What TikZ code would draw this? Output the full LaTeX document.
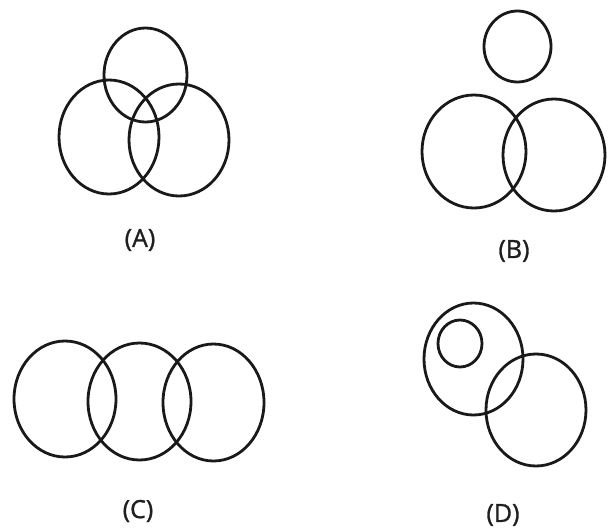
\documentclass[tikz,border=0pt]{standalone}
\usepackage{fontspec}
\setmainfont{Open Sans}[FakeBold=1.2]
\usetikzlibrary{shapes.geometric}
\begin{document}
\begin{tikzpicture}[x=1pt,y=-1pt,
  ring/.style={draw=black!90,line width=2.8pt,ellipse,inner sep=0pt},
  lab/.style={font=\fontsize{25}{28}\selectfont,text=black!88}]
\fill[white] (0,0) rectangle (611,531);
\useasboundingbox (0,0) rectangle (611,531);
% (A)
\node[ring,minimum width=83pt,minimum height=94pt] (at) at (145.5,75) {};
\node[ring,minimum width=100pt,minimum height=114pt] (al) at (109,137) {};
\node[ring,minimum width=100pt,minimum height=112pt] (ar) at (179,140) {};
\node[lab] (la) at (140,240) {(A)};
% (B)
\node[ring,minimum width=67pt,minimum height=71pt] (bt) at (517.5,46.5) {};
\node[ring,minimum width=104pt,minimum height=113pt] (bl) at (474,151.5) {};
\node[ring,minimum width=102pt,minimum height=112pt] (br) at (554,155) {};
\node[lab] (lb) at (514,251) {(B)};
% (C)
\node[ring,minimum width=102pt,minimum height=116pt] (cl) at (65,399) {};
\node[ring,minimum width=103pt,minimum height=117pt] (cm) at (139.5,401.5) {};
\node[ring,minimum width=101pt,minimum height=117pt] (cr) at (213.5,402.5) {};
\node[lab] (lc) at (138,511) {(C)};
% (D)
\node[ring,minimum width=99pt,minimum height=112pt] (du) at (473.5,359) {};
\node[ring,minimum width=44pt,minimum height=47pt] (di) at (460,343.5) {};
\node[ring,minimum width=100pt,minimum height=112pt] (dr) at (536,410) {};
\node[lab] (ld) at (503,515) {(D)};
\end{tikzpicture}
\end{document}
